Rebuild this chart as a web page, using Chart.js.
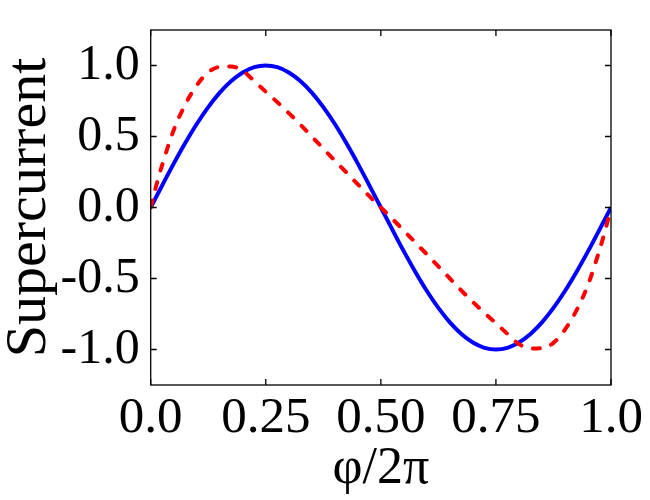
<!DOCTYPE html>
<html>
<head>
<meta charset="utf-8">
<script src="https://cdn.jsdelivr.net/npm/chart.js@4"></script>
<style>
  html, body { margin: 0; padding: 0; background: #fff; }
  #wrap { width: 650px; height: 500px; }
</style>
</head>
<body>
<div id="wrap"><canvas id="cpr" width="650" height="500"></canvas></div>
<script>
// phase values (in units of 2π) along the x axis
const phase = [0, 0.0125, 0.025, 0.05, 0.075, 0.1, 0.125, 0.15, 0.175, 0.2, 0.225,
  0.25, 0.275, 0.3, 0.325, 0.35, 0.375, 0.4, 0.425, 0.45, 0.475, 0.5,
  0.525, 0.55, 0.575, 0.6, 0.625, 0.65, 0.675, 0.7, 0.725, 0.75,
  0.775, 0.8, 0.825, 0.85, 0.875, 0.9, 0.925, 0.95, 0.975, 0.9875, 1];

// solid blue curve
const blueCurrent = [0, 0.078, 0.156, 0.309, 0.454, 0.588, 0.707, 0.809, 0.891, 0.951, 0.988,
  1.0, 0.988, 0.951, 0.891, 0.809, 0.707, 0.588, 0.454, 0.309, 0.156, 0,
  -0.156, -0.309, -0.454, -0.588, -0.707, -0.809, -0.891, -0.951, -0.988, -1.0,
  -0.988, -0.951, -0.891, -0.809, -0.707, -0.588, -0.454, -0.309, -0.156, -0.078, 0];

// dashed red curve (skewed)
const redCurrent = [0, 0.16, 0.30, 0.545, 0.725, 0.86, 0.953, 0.99, 0.993, 0.962, 0.89,
  0.815, 0.742, 0.665, 0.585, 0.50, 0.415, 0.33, 0.247, 0.163, 0.08, 0,
  -0.08, -0.163, -0.247, -0.33, -0.415, -0.50, -0.585, -0.665, -0.742, -0.815,
  -0.89, -0.962, -0.993, -0.99, -0.953, -0.86, -0.725, -0.545, -0.30, -0.16, 0];

const xTicks = [0, 0.25, 0.5, 0.75, 1];
const xTickLabels = ['0.0', '0.25', '0.50', '0.75', '1.0'];
const yTicks = [-1, -0.5, 0, 0.5, 1];
const yTickLabels = ['-1.0', '-0.5', '0.0', '0.5', '1.0'];

const serif = "'Liberation Serif', 'Times New Roman', serif";

// box around the plot with short ticks pointing inwards on all four sides
const frameTicks = {
  id: 'frameTicks',
  afterDatasetsDraw(chart) {
    const { ctx, chartArea: a, scales: { x, y } } = chart;
    const len = 6;
    ctx.save();
    ctx.strokeStyle = '#000';
    ctx.lineWidth = 1.3;
    ctx.strokeRect(a.left, a.top, a.right - a.left, a.bottom - a.top);
    ctx.beginPath();
    x.ticks.forEach((t) => {
      const px = x.getPixelForValue(t.value);
      ctx.moveTo(px, a.bottom);
      ctx.lineTo(px, a.bottom - len);
      ctx.moveTo(px, a.top);
      ctx.lineTo(px, a.top + len);
    });
    y.ticks.forEach((t) => {
      const py = y.getPixelForValue(t.value);
      ctx.moveTo(a.left, py);
      ctx.lineTo(a.left + len, py);
      ctx.moveTo(a.right, py);
      ctx.lineTo(a.right - len, py);
    });
    ctx.stroke();
    ctx.restore();
  },
};

new Chart(document.getElementById('cpr'), {
  type: 'line',
  data: {
    datasets: [
      {
        label: 'skewed',
        data: phase.map((p, i) => ({ x: p, y: redCurrent[i] })),
        borderColor: '#ff0000',
        borderWidth: 4,
        borderDash: [7, 12],
        borderCapStyle: 'round',
        pointRadius: 0,
        cubicInterpolationMode: 'monotone',
      },
      {
        label: 'sine',
        data: phase.map((p, i) => ({ x: p, y: blueCurrent[i] })),
        borderColor: '#0000ff',
        borderWidth: 4,
        pointRadius: 0,
        cubicInterpolationMode: 'monotone',
      },
    ],
  },
  options: {
    responsive: false,
    animation: false,
    layout: { padding: { top: 30, right: 39, left: 0, bottom: 0 } },
    plugins: {
      legend: { display: false },
      tooltip: { enabled: false },
    },
    scales: {
      x: {
        type: 'linear',
        min: 0,
        max: 1,
        afterFit: (s) => { s.height = 115; s.paddingLeft = 0; s.paddingRight = 0; },
        afterBuildTicks: (s) => { s.ticks = xTicks.map((v) => ({ value: v })); },
        grid: { display: false, drawTicks: false },
        border: { display: false },
        ticks: {
          color: '#000',
          padding: 8,
          maxRotation: 0,
          autoSkip: false,
          font: { family: serif, size: 51, lineHeight: 1 },
          callback: (v, i) => xTickLabels[i],
        },
        title: {
          display: true,
          text: 'φ/2π',
          color: '#000',
          padding: { top: 0, bottom: 5 },
          font: { family: serif, size: 52, lineHeight: 1 },
        },
      },
      y: {
        min: -1.25,
        max: 1.25,
        afterFit: (s) => { s.width = 150.7; s.paddingTop = 0; s.paddingBottom = 0; },
        afterBuildTicks: (s) => { s.ticks = yTicks.map((v) => ({ value: v })); },
        grid: { display: false, drawTicks: false },
        border: { display: false },
        ticks: {
          color: '#000',
          padding: 11,
          autoSkip: false,
          font: { family: serif, size: 50, lineHeight: 1 },
          callback: (v, i) => yTickLabels[i],
        },
        title: {
          display: true,
          text: 'Supercurrent',
          color: '#000',
          padding: { top: 1, bottom: 0 },
          font: { family: serif, size: 58, lineHeight: 1 },
        },
      },
    },
  },
  plugins: [frameTicks],
});
</script>
</body>
</html>
